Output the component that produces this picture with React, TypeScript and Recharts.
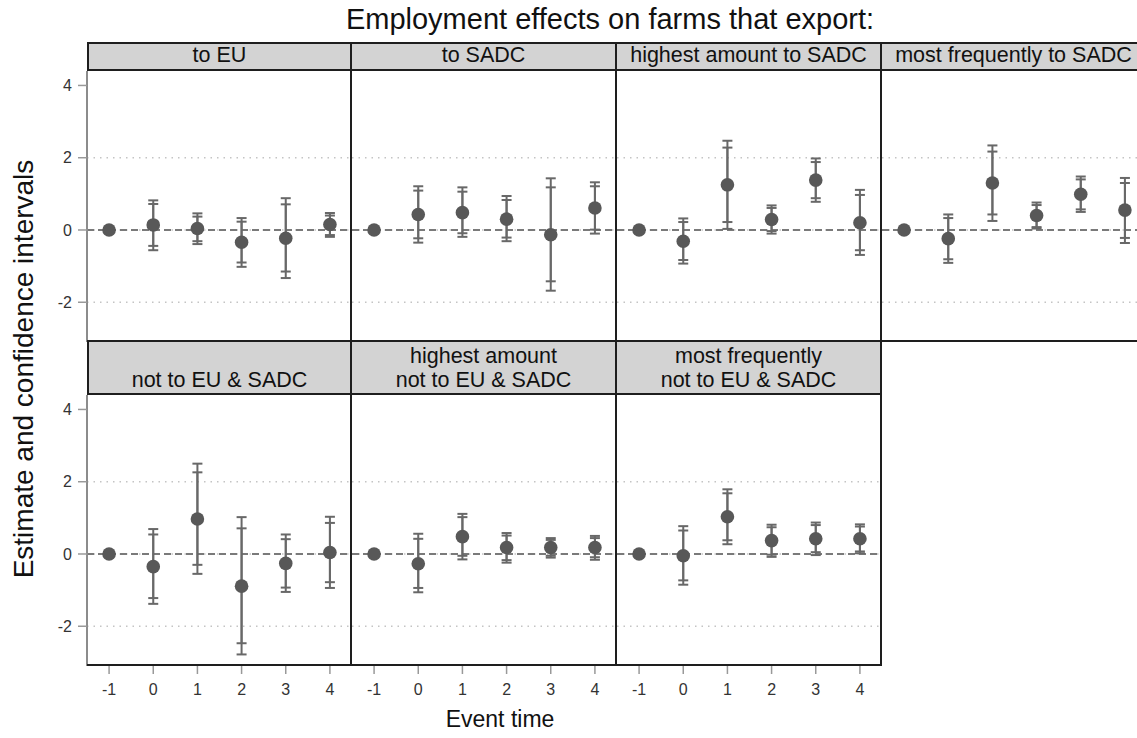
import React from "react";
import { ScatterChart, Scatter, ErrorBar, XAxis, YAxis, ReferenceLine } from "recharts";

const EVENT_TIME = [-1, 0, 1, 2, 3, 4];
const Y_TICKS = [-2, 0, 2, 4];

// to EU
const toEuEst = [0, 0.14, 0.04, -0.34, -0.23, 0.15];
const toEuCi95 = [[0, 0], [-0.56, 0.82], [-0.39, 0.46], [-1.02, 0.33], [-1.33, 0.88], [-0.19, 0.47]];
const toEuCi90 = [[0, 0], [-0.44, 0.72], [-0.31, 0.37], [-0.9, 0.23], [-1.15, 0.71], [-0.14, 0.4]];

// to SADC
const toSadcEst = [0, 0.43, 0.48, 0.3, -0.13, 0.61];
const toSadcCi95 = [[0, 0], [-0.35, 1.21], [-0.19, 1.18], [-0.31, 0.94], [-1.68, 1.43], [-0.1, 1.32]];
const toSadcCi90 = [[0, 0], [-0.23, 1.09], [-0.09, 1.06], [-0.21, 0.83], [-1.42, 1.18], [0.01, 1.21]];

// highest amount to SADC
const hiSadcEst = [0, -0.31, 1.25, 0.29, 1.38, 0.2];
const hiSadcCi95 = [[0, 0], [-0.93, 0.32], [0.03, 2.47], [-0.1, 0.68], [0.78, 1.98], [-0.69, 1.11]];
const hiSadcCi90 = [[0, 0], [-0.83, 0.22], [0.22, 2.28], [-0.03, 0.61], [0.88, 1.88], [-0.56, 0.97]];

// most frequently to SADC
const freqSadcEst = [0, -0.24, 1.3, 0.4, 0.99, 0.55];
const freqSadcCi95 = [[0, 0], [-0.91, 0.43], [0.25, 2.34], [0.04, 0.76], [0.5, 1.48], [-0.36, 1.44]];
const freqSadcCi90 = [[0, 0], [-0.81, 0.33], [0.43, 2.17], [0.08, 0.69], [0.57, 1.4], [-0.22, 1.3]];

// not to EU & SADC
const notEst = [0, -0.35, 0.97, -0.89, -0.26, 0.04];
const notCi95 = [[0, 0], [-1.38, 0.69], [-0.55, 2.5], [-2.78, 1.02], [-1.05, 0.54], [-0.94, 1.03]];
const notCi90 = [[0, 0], [-1.22, 0.54], [-0.3, 2.26], [-2.47, 0.71], [-0.93, 0.41], [-0.78, 0.86]];

// highest amount not to EU & SADC
const hiNotEst = [0, -0.27, 0.48, 0.18, 0.18, 0.18];
const hiNotCi95 = [[0, 0], [-1.06, 0.56], [-0.15, 1.11], [-0.24, 0.58], [-0.1, 0.44], [-0.16, 0.5]];
const hiNotCi90 = [[0, 0], [-0.94, 0.42], [-0.05, 1.02], [-0.17, 0.51], [-0.05, 0.39], [-0.09, 0.44]];

// most frequently not to EU & SADC
const freqNotEst = [0, -0.05, 1.03, 0.37, 0.42, 0.42];
const freqNotCi95 = [[0, 0], [-0.85, 0.77], [0.27, 1.79], [-0.08, 0.81], [-0.03, 0.87], [0.02, 0.82]];
const freqNotCi90 = [[0, 0], [-0.73, 0.65], [0.38, 1.68], [-0.02, 0.74], [0.05, 0.8], [0.07, 0.76]];

const PANELS = [
  { title: ["to EU"], est: toEuEst, ci95: toEuCi95, ci90: toEuCi90 },
  { title: ["to SADC"], est: toSadcEst, ci95: toSadcCi95, ci90: toSadcCi90 },
  { title: ["highest amount to SADC"], est: hiSadcEst, ci95: hiSadcCi95, ci90: hiSadcCi90 },
  { title: ["most frequently to SADC"], est: freqSadcEst, ci95: freqSadcCi95, ci90: freqSadcCi90 },
  { title: ["not to EU & SADC"], est: notEst, ci95: notCi95, ci90: notCi90 },
  { title: ["highest amount", "not to EU & SADC"], est: hiNotEst, ci95: hiNotCi95, ci90: hiNotCi90 },
  { title: ["most frequently", "not to EU & SADC"], est: freqNotEst, ci95: freqNotCi95, ci90: freqNotCi90 },
];

const FONT = "'Liberation Sans', Arial, Helvetica, sans-serif";
const COL_X = [87, 352, 617, 882];
const PLOT_W = 265;
const PLOT_H = 271;
const ROW_PLOT_Y = [71, 395];
const ROW_STRIP = [
  { top: 42, height: 29 },
  { top: 342, height: 53 },
];
const Y_AXIS_W = 50;
const X_AXIS_H = 45;
const BORDER = "2px solid #1e1e1e";

const MARKER = "#585858";
const BAR = "#686868";

function buildRows(p: (typeof PANELS)[number]) {
  return EVENT_TIME.map((t, i) => {
    const e = p.est[i];
    return {
      t,
      est: e,
      outer: [e - p.ci95[i][0], p.ci95[i][1] - e],
      inner: [e - p.ci90[i][0], p.ci90[i][1] - e],
    };
  });
}

const Dot = (props: any) => <circle cx={props.cx} cy={props.cy} r={6.8} fill={MARKER} />;

function Panel({ index }: { index: number }) {
  const p = PANELS[index];
  const row = index < 4 ? 0 : 1;
  const col = index < 4 ? index : index - 4;
  const showY = col === 0;
  const showX = row === 1;
  const data = buildRows(p);
  const w = PLOT_W + (showY ? Y_AXIS_W : 0);
  const h = PLOT_H + (showX ? X_AXIS_H : 0);
  const strip = ROW_STRIP[row];

  return (
    <>
      <div style={{ position: "absolute", left: COL_X[col] - (showY ? Y_AXIS_W : 0), top: ROW_PLOT_Y[row] }}>
        <ScatterChart width={w} height={h} margin={{ top: 0, right: 0, bottom: 0, left: 0 }}>
          <XAxis
            type="number"
            dataKey="t"
            domain={[-1.5, 4.5]}
            ticks={EVENT_TIME}
            hide={!showX}
            height={X_AXIS_H}
            axisLine={false}
            tickSize={8}
            tickMargin={10}
            tickLine={{ stroke: "#999", strokeWidth: 1.5 }}
            tick={{ fontSize: 16, fill: "#333", fontFamily: FONT }}
            allowDataOverflow
          />
          <YAxis
            type="number"
            domain={[-3.1, 4.4]}
            ticks={Y_TICKS}
            hide={!showY}
            width={Y_AXIS_W}
            axisLine={{ stroke: "#8c8c8c", strokeWidth: 2 }}
            tickSize={9}
            tickMargin={6}
            tickLine={{ stroke: "#999", strokeWidth: 1.5 }}
            tick={{ fontSize: 16, fill: "#333", fontFamily: FONT }}
            allowDataOverflow
          />
          <ReferenceLine y={2} stroke="#c4c4c4" strokeWidth={1.5} strokeDasharray="1.5 5" />
          <ReferenceLine y={-2} stroke="#c4c4c4" strokeWidth={1.5} strokeDasharray="1.5 5" />
          <ReferenceLine y={0} stroke="#c4c4c4" strokeWidth={1.5} strokeDasharray="1.5 5" />
          <ReferenceLine y={0} stroke="#7a7a7a" strokeWidth={1.8} strokeDasharray="7 4" />
          <Scatter data={data} dataKey="est" shape={Dot} isAnimationActive={false}>
            <ErrorBar dataKey="outer" direction="y" width={5} stroke={BAR} strokeWidth={2} isAnimationActive={false} />
            <ErrorBar dataKey="inner" direction="y" width={5} stroke={BAR} strokeWidth={2} isAnimationActive={false} />
          </Scatter>
        </ScatterChart>
      </div>
      <div
        style={{
          position: "absolute",
          left: COL_X[col],
          top: ROW_PLOT_Y[row],
          width: PLOT_W,
          height: PLOT_H,
          boxSizing: "border-box",
          borderRight: BORDER,
          borderBottom: BORDER,
          pointerEvents: "none",
        }}
      />
      <div
        style={{
          position: "absolute",
          left: COL_X[col],
          top: strip.top,
          width: PLOT_W,
          height: strip.height,
          boxSizing: "border-box",
          background: "#d3d3d3",
          borderTop: row === 0 ? BORDER : "none",
          borderRight: BORDER,
          borderBottom: BORDER,
          borderLeft: col === 0 ? BORDER : "none",
          display: "flex",
          flexDirection: "column",
          justifyContent: "flex-end",
          alignItems: "center",
          paddingBottom: row === 0 ? 2 : 1,
          fontSize: 21.5,
          lineHeight: "24px",
          color: "#111",
          whiteSpace: "nowrap",
        }}
      >
        {p.title.map((line) => (
          <div key={line}>{line}</div>
        ))}
      </div>
    </>
  );
}

export default function App() {
  return (
    <div
      style={{
        position: "absolute",
        left: 0,
        top: 0,
        width: 1137,
        height: 738,
        overflow: "hidden",
        background: "#fff",
        fontFamily: FONT,
      }}
    >
      <div style={{ position: "absolute", left: 0, width: 1220, top: 3, textAlign: "center", fontSize: 29, color: "#111" }}>
        Employment effects on farms that export:
      </div>
      {PANELS.map((_, i) => (
        <Panel key={i} index={i} />
      ))}
      <div
        style={{
          position: "absolute",
          left: 24,
          top: 369,
          transform: "translate(-50%, -50%) rotate(-90deg)",
          fontSize: 28,
          color: "#111",
          whiteSpace: "nowrap",
        }}
      >
        Estimate and confidence intervals
      </div>
      <div
        style={{
          position: "absolute",
          left: 500,
          top: 719,
          transform: "translate(-50%, -50%)",
          fontSize: 23,
          color: "#111",
          whiteSpace: "nowrap",
        }}
      >
        Event time
      </div>
    </div>
  );
}
